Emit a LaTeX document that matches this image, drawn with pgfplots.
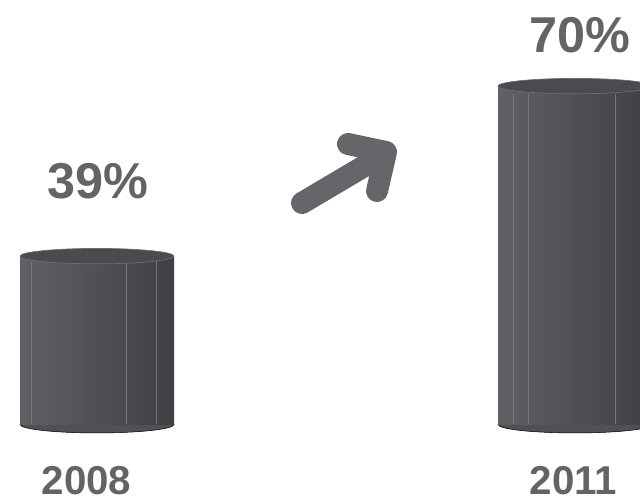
\documentclass[border=0pt]{standalone}
\usepackage{fontspec}
\setmainfont{Liberation Sans}
\usepackage{pgfplots}
\pgfplotsset{compat=1.18}
\definecolor{barL}{HTML}{606165}
\definecolor{barM}{HTML}{505155}
\definecolor{barR}{HTML}{3E3F43}
\definecolor{topc}{HTML}{4A4B4F}
\definecolor{edgec}{HTML}{6E6F73}
\definecolor{facet}{HTML}{75767A}
\definecolor{txt}{HTML}{636468}
\definecolor{arr}{HTML}{65666A}
\begin{document}
\begin{tikzpicture}
\useasboundingbox (0,0) rectangle (480pt,378pt);
% overlay axis: bottom ellipses and labels
\begin{axis}[at={(0,0)}, anchor=south west, scale only axis,
  width=480pt, height=378pt, hide axis, clip=false,
  xmin=-0.20293, xmax=1.13598, ymin=-6.2, ymax=85.7]
  \addplot[only marks, mark=*, mark size=57.75pt,
    mark options={yscale=0.11, fill=barM, draw=none}]
    coordinates {(0,8.3) (1,8.3)};
  \node[font=\bfseries\fontsize{37.8}{40}\selectfont, text=txt] at (axis cs:0.001,52.6) {39\%};
  \node[font=\bfseries\fontsize{37.8}{40}\selectfont, text=txt] at (axis cs:1.0094,79.3) {70\%};
  \node[font=\bfseries\fontsize{30.2}{32}\selectfont, text=txt] at (axis cs:-0.022,-1.95) {2008};
  \node[font=\bfseries\fontsize{30.2}{32}\selectfont, text=txt] at (axis cs:0.9969,-1.95) {2011};
\end{axis}
% bar axis
\begin{axis}[at={(0,59.625pt)}, anchor=south west, scale only axis,
  width=480pt, height=318.375pt, hide axis, clip=true,
  xmin=-0.20293, xmax=1.13598, ymin=8.3, ymax=85.7]
  \addplot[ybar, bar width=115.5pt, draw=none, left color=barL, right color=barR]
    coordinates {(0,39)};
  \addplot[ybar, bar width=115.5pt, draw=none, left color=barL, right color=barR]
    coordinates {(1,70)};
  \draw[facet, line width=0.5pt] (axis cs:-0.1366,8.3) -- (axis cs:-0.1366,37.9);
  \draw[facet, line width=0.5pt] (axis cs:0.0607,8.3) -- (axis cs:0.0607,37.5);
  \draw[facet, line width=0.5pt] (axis cs:0.1249,8.3) -- (axis cs:0.1249,38.2);
  \draw[facet, line width=0.5pt] (axis cs:0.8703,8.3) -- (axis cs:0.8703,68.6);
  \draw[facet, line width=0.5pt] (axis cs:0.9017,8.3) -- (axis cs:0.9017,68.5);
  \draw[facet, line width=0.5pt] (axis cs:1.0837,8.3) -- (axis cs:1.0837,68.6);
  \addplot[only marks, mark=*, mark size=57.75pt,
    mark options={yscale=0.1, fill=topc, draw=edgec, line width=0.5pt}]
    coordinates {(0,39) (1,70)};
\end{axis}
% arrow
\begin{scope}[shift={(0,378pt)}, x=0.75pt, y=-0.75pt]
  \draw[arr, line width=16.5pt, line cap=round, line join=round] (302,203) -- (378,158);
  \draw[arr, line width=16.5pt, line cap=round, line join=round] (348,144) -- (386,152) -- (377,191);
\end{scope}
\end{tikzpicture}
\end{document}
